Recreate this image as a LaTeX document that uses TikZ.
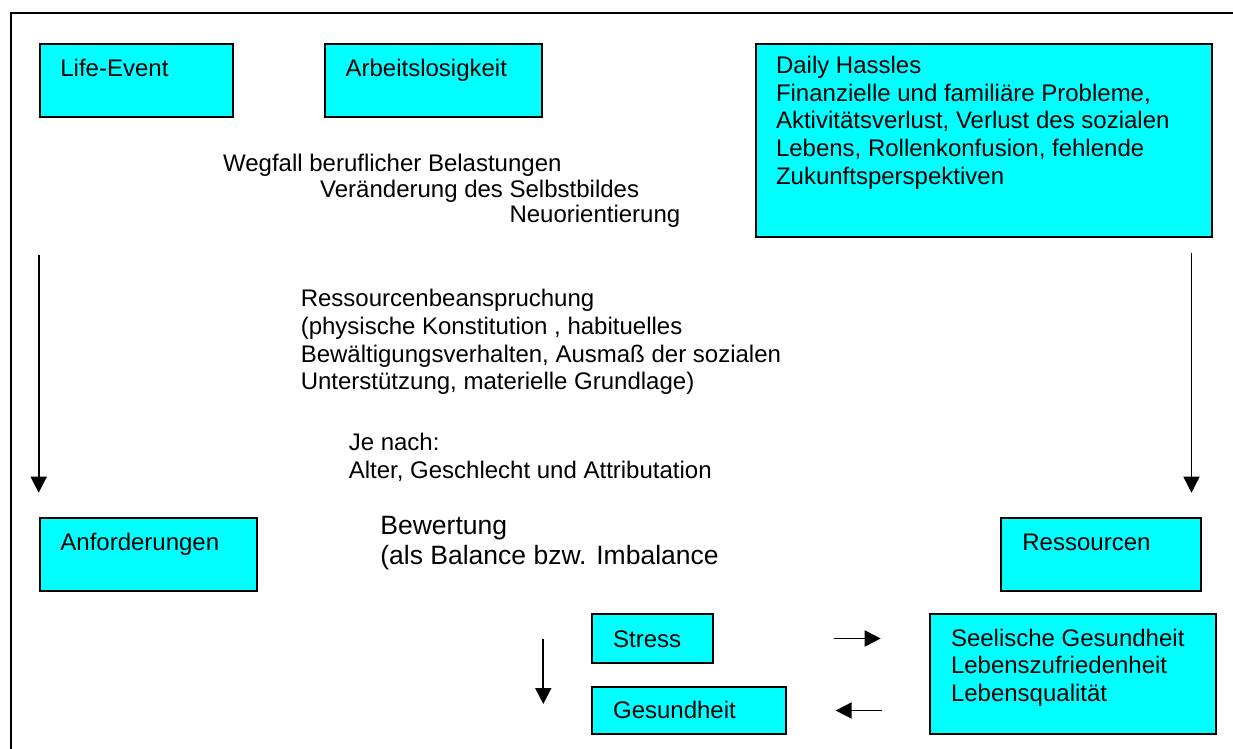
\documentclass[tikz,border=0pt]{standalone}
\usepackage{fontspec}
\setmainfont{Liberation Sans}
\usepackage{tikz}
\usetikzlibrary{calc, positioning, arrows.meta}
\definecolor{boxcyan}{RGB}{0,255,255}
\tikzstyle{box}=[draw, fill=boxcyan, line width=1pt, anchor=north west, inner sep=0pt]
\tikzstyle{txt}=[anchor=north west, inner sep=0pt, align=left, font=\fontsize{12}{13.85}\selectfont, execute at begin node=\strut]
\tikzstyle{bigtxt}=[txt, font=\fontsize{13.25}{15.25}\selectfont]
\tikzstyle{arr}=[->, line width=0.85pt]
\tikzset{>={Triangle[length=8pt,width=8pt]}}

\begin{document}
\begin{tikzpicture}[x=0.5pt, y=-0.5pt]
\useasboundingbox (0,0) rectangle (1233,749);
% the frame
\draw[line width=1pt] (1233,13.3) -- (11,13.3) -- (11,749);
% the upper boxes
\node[box, minimum width=96.5pt, minimum height=36.5pt] (life) at (38.7,42.7) {};
\node[box, minimum width=108.75pt, minimum height=36.5pt] (arbeit) at (323.8,42.7) {};
\node[box, minimum width=228pt, minimum height=96.65pt] (hassles) at (755,42.7) {};
\node[txt] (lifetxt) at (60,56.6) {Life-Event};
\node[txt] (arbeittxt) at (345.2,56.6) {Arbeitslosigkeit};
\node[txt] (hasslestxt) at (775.6,55.6) {Daily Hassles\\Finanzielle und familiäre Probleme,\\Aktivitätsverlust, Verlust des sozialen\\Lebens, Rollenkonfusion, fehlende\\Zukunftsperspektiven};
% the texts in the middle
\node[txt] (wegfall) at (222.7,151.6) {Wegfall beruflicher Belastungen};
\node[txt] (selbst) at (319.8,177.6) {Veränderung des Selbstbildes};
\node[txt] (neuor) at (509.1,202.6) {Neuorientierung};
\node[txt] (beansp) at (300.4,288.9) {Ressourcenbeanspruchung\\(physische Konstitution , habituelles\\Bewältigungsverhalten, Ausmaß der sozialen\\Unterstützung, materielle Grundlage)};
\node[txt] (jenach) at (348.4,432.9) {Je nach:\\Alter, Geschlecht und Attributation};
\node[bigtxt] (bewert) at (380,515.65) {Bewertung\\(als Balance bzw. Imbalance};
% the lower boxes
\node[box, minimum width=108.65pt, minimum height=36.5pt] (anford) at (38.7,516.7) {};
\node[box, minimum width=100pt, minimum height=36.65pt] (ressourcen) at (1000.4,516.7) {};
\node[box, minimum width=60.5pt, minimum height=24.2pt] (stress) at (590.7,613.3) {};
\node[box, minimum width=97pt, minimum height=23.8pt] (gesund) at (590.7,685.7) {};
\node[box, minimum width=143pt, minimum height=60pt] (seel) at (929,613) {};
\node[txt] (anfordtxt) at (60,530.3) {Anforderungen};
\node[txt] (ressourcentxt) at (1022,530.3) {Ressourcen};
\node[txt] (stresstxt) at (612.7,627.3) {Stress};
\node[txt] (gesundtxt) at (612.7,698.9) {Gesundheit};
\node[txt] (seeltxt) at (950.6,628.3) {Seelische Gesundheit\\Lebenszufriedenheit\\Lebensqualität};
% the arrows
\coordinate (rtop) at (1191.5,252.7);
\coordinate (rbot) at (1191.5,492.7);
\draw[arr, shorten <=68.5pt, shorten >=12pt] (life.south west) -- (anford.north west);
\draw[arr] (rtop) -- (rbot);
\draw[arr, shorten <=60.1pt, shorten >=24.15pt] (stress.east) -- (stress.east -| seel.west);
\draw[arr, shorten <=23.5pt, shorten >=24.45pt] (gesund.east -| seel.west) -- (gesund.east);
\draw[arr, shorten >=3.25pt] ([xshift=-23.7pt]stress.west) -- ([xshift=-23.7pt]gesund.west);
\end{tikzpicture}
\end{document}
